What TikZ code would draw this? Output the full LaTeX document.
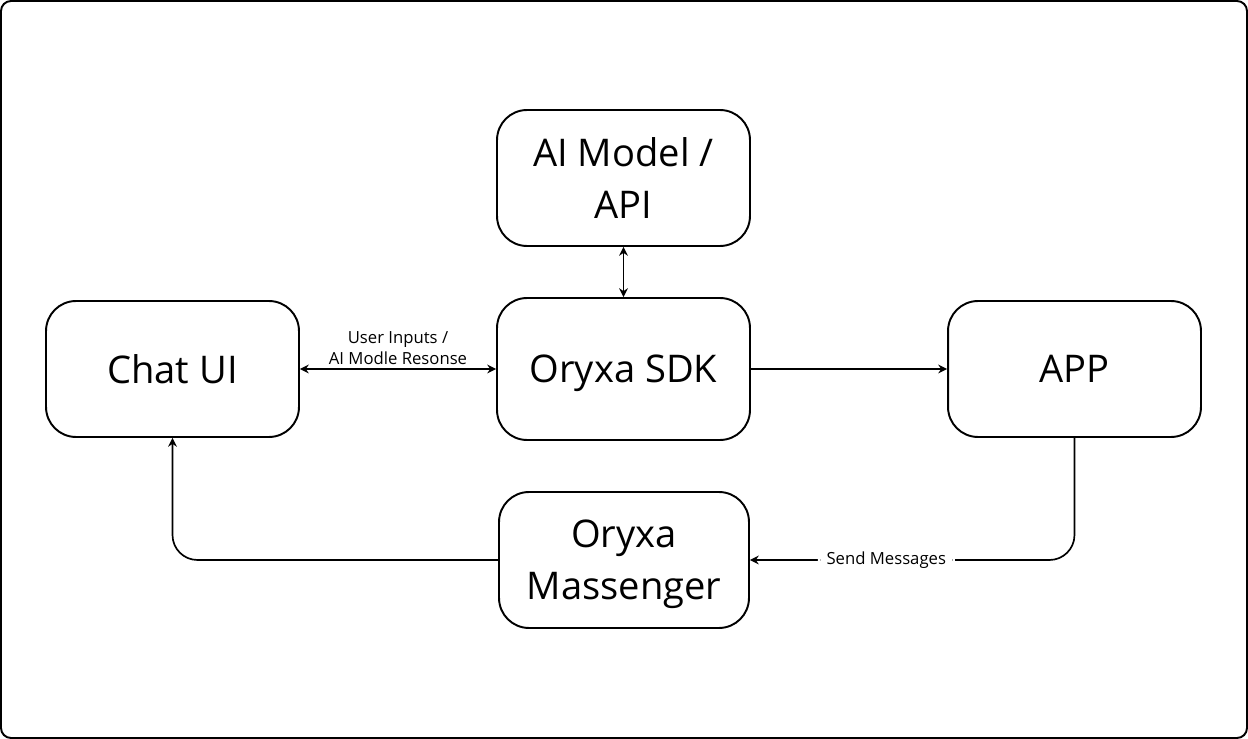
\documentclass[tikz,border=0pt]{standalone}
\usepackage{fontspec}
\setmainfont{Open Sans}
\usetikzlibrary{arrows.meta}

\tikzset{
  block/.style={draw, line width=1.1pt, rounded corners=0.6cm, minimum width=5.06cm,
    minimum height=2.72cm, align=center, font=\fontsize{21.7}{29.5}\selectfont},
  link/.style={line width=0.95pt, rounded corners=0.5cm},
  tip/.style={-{Stealth[length=5pt,width=5pt]}},
  label/.style={font=\fontsize{9.5}{12}\selectfont, align=center}
}

\begin{document}
\begin{tikzpicture}[x=0.02cm, y=-0.02cm]
\useasboundingbox (0,0) rectangle (1248,739);
% frame
\draw[line width=1.1pt, rounded corners=0.2cm] (1,1) rectangle (1247,738);

% boxes
\node[block] (chat) at (172.5,369) {Chat UI};
\node[block] (api) at (623.5,178) {AI Model /\\API};
\node[block, minimum height=2.84cm, text depth=0pt] (sdk) at (623.5,369) {Oryxa SDK};
\node[block] (app) at (1074.5,369) {APP};
\node[block, minimum width=5cm, text depth=0pt] (msg) at (624,560) {Oryxa\\Massenger};

% links
\draw[link, {Stealth[length=5pt,width=5pt]}-{Stealth[length=5pt,width=5pt]}] (chat) --
  node[label, above, inner sep=2pt] {User Inputs /\\AI Modle Resonse} (sdk);
\draw[link, {Stealth[length=5pt,width=5pt]}-{Stealth[length=5pt,width=5pt]}] (api) -- (sdk);
\draw[link, tip] (sdk) -- (app);
\draw[link, tip] (app.south) |- node[label, pos=0.79, fill=white, inner xsep=5pt] {Send Messages} (msg.east);
\draw[link, tip] (msg.west) -| (chat.south);
\end{tikzpicture}
\end{document}
